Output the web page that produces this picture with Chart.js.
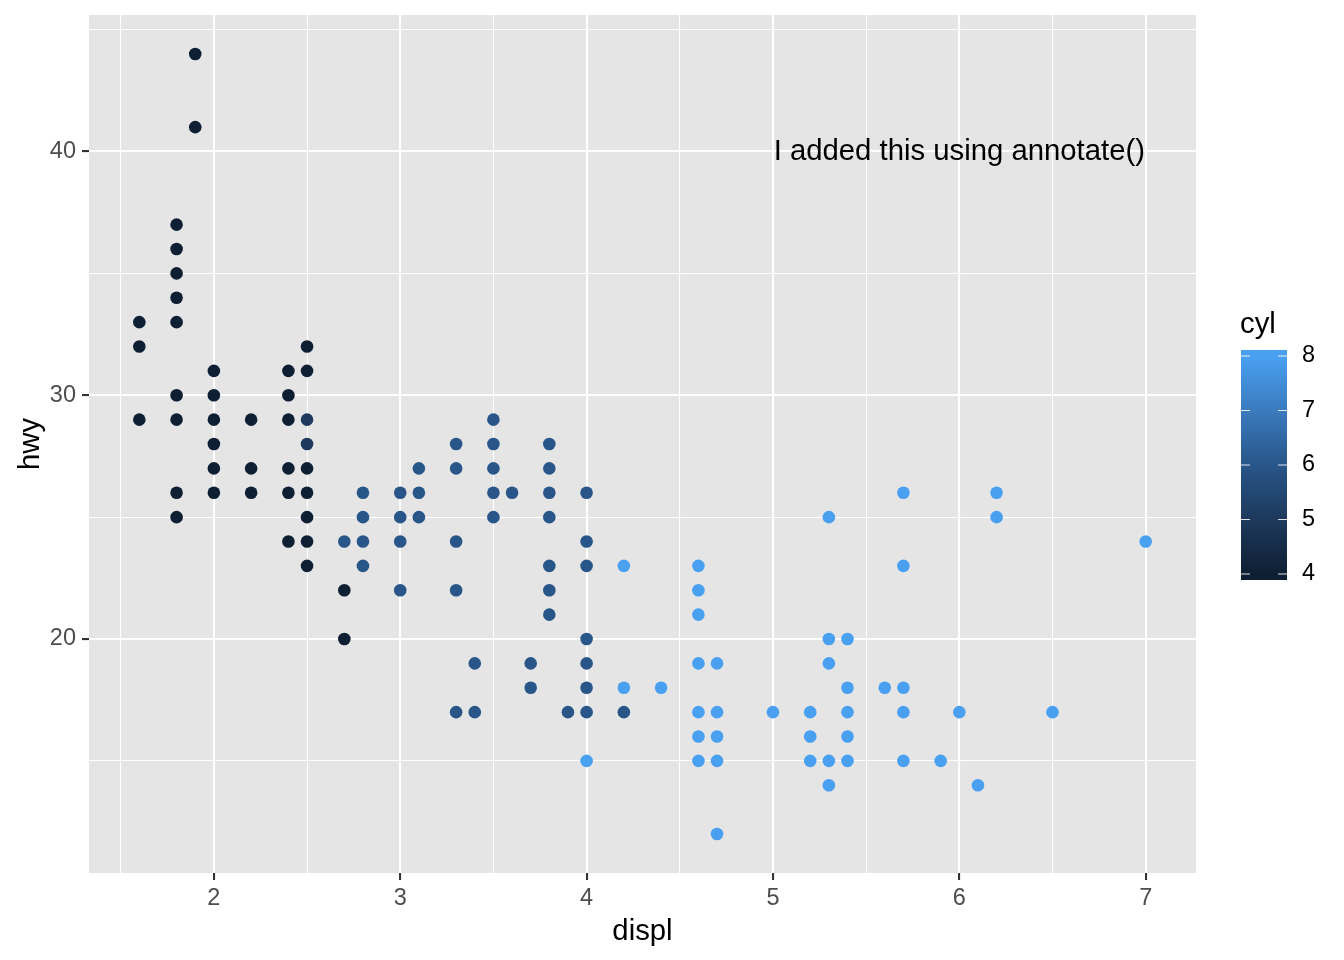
<!DOCTYPE html>
<html>
<head>
<meta charset="utf-8">
<script src="https://cdn.jsdelivr.net/npm/chart.js@4.4.1/dist/chart.umd.min.js"></script>
<style>
  html, body { margin: 0; padding: 0; background: #ffffff; }
  canvas { display: block; }
</style>
</head>
<body>
<canvas id="chart" width="1344" height="960"></canvas>
<script>
// displ / hwy pairs, one pair of arrays per cylinder count
const displ4 = [1.6, 1.6, 1.6,
  1.8, 1.8, 1.8, 1.8, 1.8, 1.8, 1.8, 1.8, 1.8,
  1.9, 1.9,
  2.0, 2.0, 2.0, 2.0, 2.0, 2.0,
  2.2, 2.2, 2.2,
  2.4, 2.4, 2.4, 2.4, 2.4, 2.4,
  2.5, 2.5, 2.5, 2.5, 2.5, 2.5, 2.5,
  2.7, 2.7];
const hwy4 = [33, 32, 29,
  37, 36, 35, 34, 33, 30, 29, 26, 25,
  44, 41,
  31, 30, 29, 28, 27, 26,
  29, 27, 26,
  31, 30, 29, 27, 26, 24,
  32, 31, 27, 26, 25, 24, 23,
  22, 20];

const displ5 = [2.5, 2.5];
const hwy5 = [29, 28];

const displ6 = [2.7,
  2.8, 2.8, 2.8, 2.8,
  3.0, 3.0, 3.0, 3.0,
  3.1, 3.1, 3.1,
  3.3, 3.3, 3.3, 3.3, 3.3,
  3.4, 3.4,
  3.5, 3.5, 3.5, 3.5, 3.5,
  3.6,
  3.7, 3.7,
  3.8, 3.8, 3.8, 3.8, 3.8, 3.8, 3.8,
  3.9,
  4.0, 4.0, 4.0, 4.0, 4.0, 4.0, 4.0,
  4.2];
const hwy6 = [24,
  26, 25, 24, 23,
  26, 25, 24, 22,
  27, 26, 25,
  28, 27, 24, 22, 17,
  19, 17,
  29, 28, 27, 26, 25,
  26,
  19, 18,
  28, 27, 26, 25, 23, 22, 21,
  17,
  26, 24, 23, 20, 19, 18, 17,
  17];

const displ8 = [4.0,
  4.2, 4.2,
  4.4,
  4.6, 4.6, 4.6, 4.6, 4.6, 4.6, 4.6,
  4.7, 4.7, 4.7, 4.7, 4.7,
  5.0,
  5.2, 5.2, 5.2,
  5.3, 5.3, 5.3, 5.3, 5.3,
  5.4, 5.4, 5.4, 5.4, 5.4,
  5.6,
  5.7, 5.7, 5.7, 5.7, 5.7,
  5.9, 6.0, 6.1,
  6.2, 6.2,
  6.5, 7.0];
const hwy8 = [15,
  23, 18,
  18,
  23, 22, 21, 19, 17, 16, 15,
  19, 17, 16, 15, 12,
  17,
  17, 16, 15,
  25, 20, 19, 15, 14,
  20, 18, 17, 16, 15,
  18,
  26, 23, 18, 17, 15,
  15, 17, 14,
  26, 25,
  17, 24];

const xMajor = [2, 3, 4, 5, 6, 7];
const xMinor = [1.5, 2.5, 3.5, 4.5, 5.5, 6.5];
const yMajor = [20, 30, 40];
const yMinor = [15, 25, 35, 45];
const cylTicks = [4, 5, 6, 7, 8];

const noteX = 6;
const noteY = 40;
const noteText = 'I added this using annotate()';

// dark navy -> light blue gradient, stops for cyl 4,5,6,7,8
const gradStops = ['#0F1F33', '#1D395C', '#285689', '#3A7BBE', '#4AA0F0'];
const cylMin = 4, cylMax = 8;

function hexToRgb(h) {
  return [parseInt(h.slice(1, 3), 16), parseInt(h.slice(3, 5), 16), parseInt(h.slice(5, 7), 16)];
}
function cylColor(v) {
  const t = (v - cylMin) / (cylMax - cylMin) * (gradStops.length - 1);
  const i = Math.min(Math.floor(t), gradStops.length - 2);
  const f = t - i;
  const a = hexToRgb(gradStops[i]), b = hexToRgb(gradStops[i + 1]);
  const c = a.map((x, k) => Math.round(x + (b[k] - x) * f));
  return 'rgb(' + c.join(',') + ')';
}

const FONT = '"Liberation Sans", Arial, Helvetica, sans-serif';
Chart.defaults.font.family = FONT;

function series(xs, ys, c) {
  return {
    label: String(c),
    data: xs.map((x, i) => ({ x: x, y: ys[i] })),
    backgroundColor: cylColor(c),
    borderWidth: 0,
    pointRadius: 6.3,
    pointHoverRadius: 6.3
  };
}

const panelBg = {
  id: 'panelBg',
  beforeDraw(chart) {
    const { ctx, chartArea: a } = chart;
    ctx.save();
    ctx.fillStyle = '#E5E5E5';
    ctx.fillRect(a.left, a.top, a.right - a.left, a.bottom - a.top);
    ctx.restore();
  }
};

const note = {
  id: 'note',
  afterDatasetsDraw(chart) {
    const { ctx, scales } = chart;
    ctx.save();
    ctx.font = '29.3px ' + FONT;
    ctx.fillStyle = '#000000';
    ctx.textAlign = 'center';
    ctx.textBaseline = 'middle';
    ctx.fillText(noteText, scales.x.getPixelForValue(noteX), scales.y.getPixelForValue(noteY));
    ctx.restore();
  }
};

// continuous colour legend on the right
const colorbar = {
  id: 'colorbar',
  afterDraw(chart) {
    const ctx = chart.ctx;
    const left = 1241, w = 46;
    const yOf = v => 574 - (v - cylMin) * 54.5;
    const top = yOf(8.11), bottom = yOf(3.89);
    ctx.save();
    const g = ctx.createLinearGradient(0, yOf(cylMin), 0, yOf(cylMax));
    gradStops.forEach((s, i) => g.addColorStop(i / (gradStops.length - 1), s));
    ctx.fillStyle = g;
    ctx.fillRect(left, top, w, bottom - top);
    ctx.strokeStyle = 'rgba(255,255,255,0.85)';
    ctx.lineWidth = 1.2;
    ctx.font = '23.5px ' + FONT;
    ctx.fillStyle = '#000000';
    ctx.textAlign = 'left';
    ctx.textBaseline = 'middle';
    cylTicks.forEach(v => {
      const y = yOf(v);
      ctx.beginPath();
      ctx.moveTo(left, y); ctx.lineTo(left + 9, y);
      ctx.moveTo(left + w - 9, y); ctx.lineTo(left + w, y);
      ctx.stroke();
      ctx.fillText(String(v), 1302, y);
    });
    ctx.font = '29.3px ' + FONT;
    ctx.fillText('cyl', left - 1, 325);
    ctx.restore();
  }
};

const isMajorX = v => xMajor.includes(v);
const isMajorY = v => yMajor.includes(v);

new Chart(document.getElementById('chart'), {
  type: 'scatter',
  data: {
    datasets: [
      series(displ4, hwy4, 4),
      series(displ5, hwy5, 5),
      series(displ6, hwy6, 6),
      series(displ8, hwy8, 8)
    ]
  },
  options: {
    responsive: false,
    animation: false,
    devicePixelRatio: 1,
    layout: { padding: { left: 0, right: 148, top: 15, bottom: 0 } },
    plugins: { legend: { display: false }, tooltip: { enabled: false } },
    scales: {
      x: {
        type: 'linear',
        min: 1.33,
        max: 7.27,
        afterBuildTicks: s => { s.ticks = xMinor.concat(xMajor).sort((a, b) => a - b).map(v => ({ value: v })); },
        afterFit: s => { s.height = 87; s.paddingLeft = 0; s.paddingRight = 0; },
        border: { display: false },
        grid: {
          color: '#FFFFFF',
          lineWidth: c => isMajorX(c.tick.value) ? 2.1 : 1.05,
          drawTicks: true,
          tickLength: 7,
          tickWidth: 2.1,
          tickColor: c => isMajorX(c.tick.value) ? '#333333' : 'rgba(0,0,0,0)'
        },
        ticks: {
          autoSkip: false,
          maxRotation: 0,
          padding: 4,
          color: '#4D4D4D',
          font: { size: 23.5 },
          callback: v => isMajorX(v) ? String(v) : ''
        },
        title: { display: true, text: 'displ', color: '#000000', font: { size: 29.3 }, padding: { top: 0, bottom: 10.6 } }
      },
      y: {
        type: 'linear',
        min: 10.4,
        max: 45.6,
        afterBuildTicks: s => { s.ticks = yMinor.concat(yMajor).sort((a, b) => a - b).map(v => ({ value: v })); },
        afterFit: s => { s.width = 89; s.paddingTop = 0; s.paddingBottom = 0; },
        border: { display: false },
        grid: {
          color: '#FFFFFF',
          lineWidth: c => isMajorY(c.tick.value) ? 2.1 : 1.05,
          drawTicks: true,
          tickLength: 7,
          tickWidth: 2.1,
          tickColor: c => isMajorY(c.tick.value) ? '#333333' : 'rgba(0,0,0,0)'
        },
        ticks: {
          autoSkip: false,
          padding: 6,
          color: '#4D4D4D',
          font: { size: 23.5 },
          callback: v => isMajorY(v) ? String(v) : ''
        },
        title: { display: true, text: 'hwy', color: '#000000', font: { size: 29.3 }, padding: { top: 13.6, bottom: 0 } }
      }
    }
  },
  plugins: [panelBg, note, colorbar]
});
</script>
</body>
</html>
